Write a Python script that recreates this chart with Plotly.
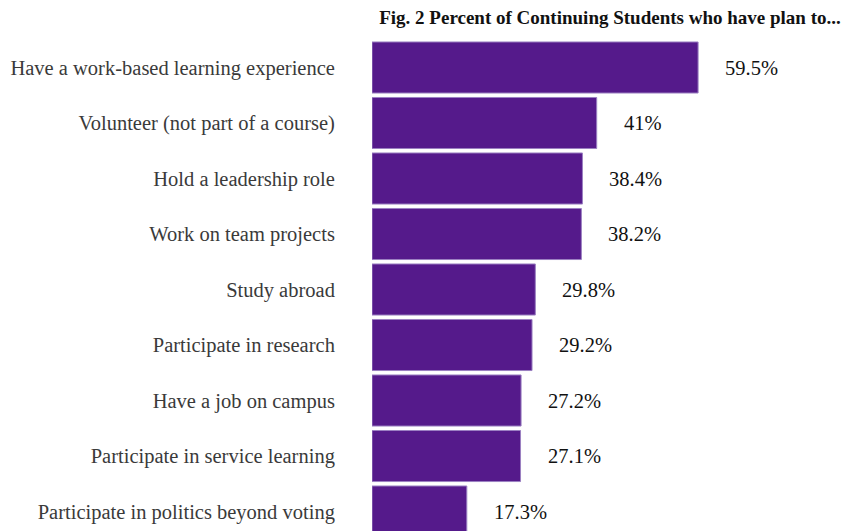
import plotly.graph_objects as go

categories = [
    "Have a work-based learning experience",
    "Volunteer (not part of a course)",
    "Hold a leadership role",
    "Work on team projects",
    "Study abroad",
    "Participate in research",
    "Have a job on campus",
    "Participate in service learning",
    "Participate in politics beyond voting",
]
values = [59.5, 41, 38.4, 38.2, 29.8, 29.2, 27.2, 27.1, 17.3]
value_labels = ["59.5%", "41%", "38.4%", "38.2%", "29.8%", "29.2%", "27.2%", "27.1%", "17.3%"]
title_text = "Fig. 2 Percent of Continuing Students who have plan to..."

FONT = "Liberation Serif"

W, H = 843, 523  # page body has an 8px margin

fig = go.Figure()
fig.add_trace(go.Bar(
    x=values,
    y=categories,
    orientation="h",
    marker=dict(color="#551A8B", line=dict(color="#9b80c2", width=1)),
    hoverinfo="skip",
))

for v, c, t in zip(values, categories, value_labels):
    fig.add_annotation(
        x=v, y=c, text=t, showarrow=False,
        xanchor="left", yanchor="middle", xshift=25,
        font=dict(family=FONT, size=20.5, color="#111111"),
    )

fig.update_layout(
    width=W, height=H,
    margin=dict(l=364, r=0, t=30, b=0),
    paper_bgcolor="white",
    plot_bgcolor="white",
    bargap=0.08,
    showlegend=False,
    title=dict(
        text="<b>" + title_text + "</b>",
        x=602 / W, xanchor="center",
        y=1 - 9 / H, yanchor="middle",
        font=dict(family=FONT, size=19, color="#111111"),
    ),
    xaxis=dict(range=[0, 87.4], visible=False, fixedrange=True),
    yaxis=dict(
        type="category",
        range=[8.351, -0.5315],
        showgrid=False, zeroline=False, showline=False,
        ticks="outside", ticklen=32, tickcolor="rgba(0,0,0,0)",
        tickfont=dict(family=FONT, size=20.5, color="#3a3a3a"),
    ),
)

fig.write_html("out.html")
